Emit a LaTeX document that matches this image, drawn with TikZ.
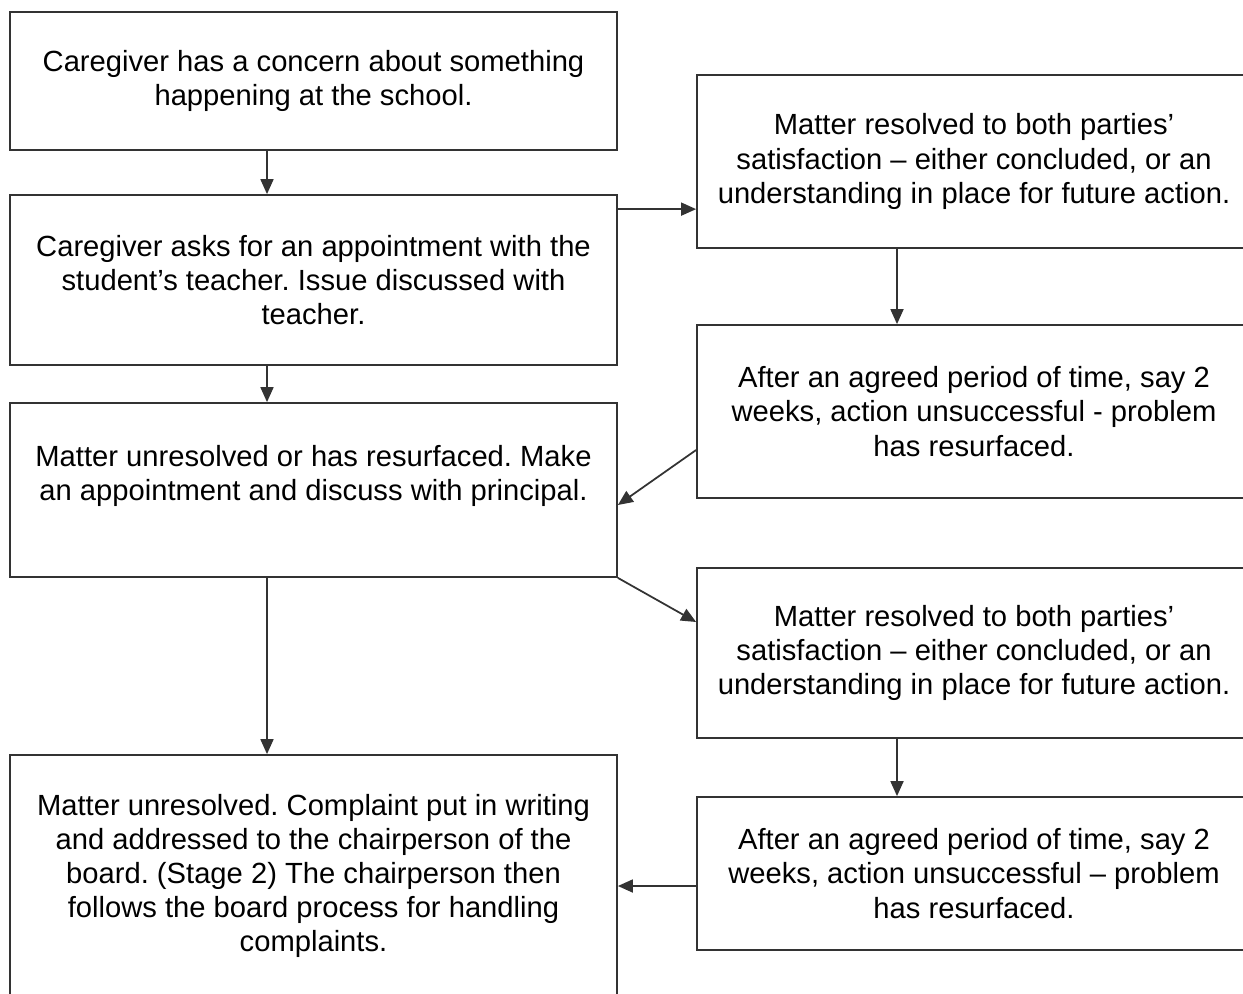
\documentclass[tikz,border=0pt]{standalone}
\usepackage{fontspec}
\setmainfont{Liberation Sans}
\usepackage{tikz}
\usetikzlibrary{arrows.meta}
\frenchspacing

\tikzset{
  stagebox/.style={rectangle, draw=black!80, line width=1pt, inner sep=0pt, align=center,
    font=\fontsize{16.6}{19.4}\selectfont},
  leftbox/.style={stagebox, minimum width=12.14cm},
  rightbox/.style={stagebox, minimum width=11.08cm},
  arr/.style={draw=black!80, line width=1pt, -{Triangle[length=0.3cm, width=0.26cm]}}
}

\begin{document}
\begin{tikzpicture}
  \useasboundingbox (0,0) rectangle (24.86,-19.86);
  \clip (0,0) rectangle (24.86,-19.86);

  % Left column
  \node[leftbox, minimum height=2.76cm] (concern) at (6.27,-1.62)
    {Caregiver has a concern about something\\ happening at the school.};
  \node[leftbox, minimum height=3.4cm] (teacher) at (6.27,-5.6)
    {Caregiver asks for an appointment with the\\ student's teacher. Issue discussed with\\ teacher.};
  \node[leftbox, minimum height=3.48cm] (principal) at (6.27,-9.8)
    {Matter unresolved or has resurfaced. Make\\ an appointment and discuss with principal.\\ \mbox{}};
  \node[leftbox, minimum height=4.84cm] (board) at (6.27,-17.52)
    {Matter unresolved. Complaint put in writing\\ and addressed to the chairperson of the\\ board. (Stage 2) The chairperson then\\ follows the board process for handling\\ complaints.};

  % Right column
  \node[rightbox, minimum height=3.46cm] (resolvedA) at (19.48,-3.23)
    {Matter resolved to both parties'\\ satisfaction -- either concluded, or an\\ understanding in place for future action.};
  \node[rightbox, minimum height=3.46cm] (resurfacedA) at (19.48,-8.23)
    {After an agreed period of time, say 2\\ weeks, action unsuccessful - problem\\ has resurfaced.};
  \node[rightbox, minimum height=3.4cm] (resolvedB) at (19.48,-13.06)
    {Matter resolved to both parties'\\ satisfaction -- either concluded, or an\\ understanding in place for future action.};
  \node[rightbox, minimum height=3.06cm] (resurfacedB) at (19.48,-17.47)
    {After an agreed period of time, say 2\\ weeks, action unsuccessful -- problem\\ has resurfaced.};

  % Down the left column
  \draw[arr] ([xshift=-0.93cm]concern.south) -- ([xshift=-0.93cm]teacher.north);
  \draw[arr] ([xshift=-0.93cm]teacher.south) -- ([xshift=-0.93cm]principal.north);
  \draw[arr] ([xshift=-0.93cm]principal.south) -- ([xshift=-0.93cm]board.north);

  % Down the right column
  \draw[arr] ([xshift=-1.54cm]resolvedA.south) -- ([xshift=-1.54cm]resurfacedA.north);
  \draw[arr] ([xshift=-1.54cm]resolvedB.south) -- ([xshift=-1.54cm]resurfacedB.north);

  % Across
  \coordinate (toresolved) at ([yshift=-0.3cm]teacher.north east);
  \draw[arr] (toresolved) -- (toresolved -| resolvedA.west);
  \draw[arr] ([yshift=-0.77cm]resurfacedA.west) -- ([yshift=-0.3cm]principal.east);
  \draw[arr] (principal.south east) -- ([yshift=0.62cm]resolvedB.west);
  \coordinate (toboard) at ([yshift=-0.25cm]resurfacedB.west);
  \draw[arr] (toboard) -- (toboard -| board.east);

\end{tikzpicture}
\end{document}
